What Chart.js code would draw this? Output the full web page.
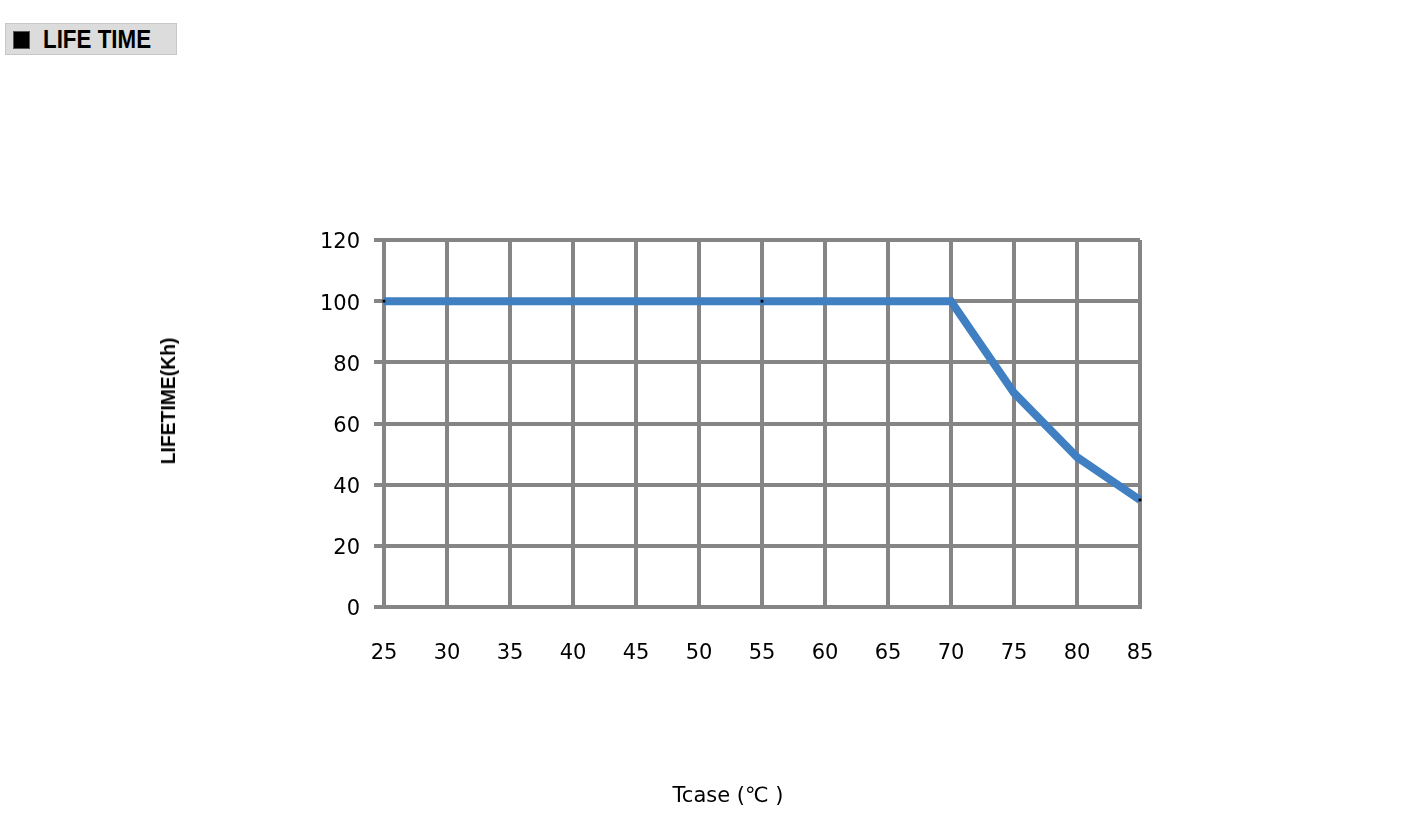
<!DOCTYPE html>
<html>
<head>
<meta charset="utf-8">
<script src="https://cdn.jsdelivr.net/npm/chart.js@4"></script>
<style>
  html, body { margin: 0; padding: 0; background: #fff; }
  #wrap { position: relative; width: 1407px; height: 837px; }
  #myChart { position: absolute; left: 0; top: 0; }
  .head {
    position: absolute; left: 5px; top: 23px; width: 170px; height: 30px;
    background: #dcdcdc; border: 1px solid #c8c8c8;
  }
  .head .box {
    position: absolute; left: 7px; top: 7px; width: 15px; height: 16px;
    background: #000; border: 1px solid #555;
  }
  .head .txt {
    position: absolute; left: 37px; top: 0px;
    font: bold 26px "Liberation Sans", sans-serif;
    color: #000; transform: scaleX(0.86); transform-origin: left center;
    white-space: nowrap;
  }
  .ytitle {
    position: absolute; left: 168px; top: 401px;
    font: bold 21px "Liberation Sans", sans-serif; color: #000;
    white-space: nowrap;
    transform: translate(-50%, -50%) rotate(-90deg) scaleX(0.92);
  }
  .xtitle {
    position: absolute; left: 728px; top: 795px;
    font: 21px "DejaVu Sans", sans-serif; color: #000;
    white-space: nowrap;
    transform: translate(-50%, -50%);
  }
</style>
</head>
<body>
<div id="wrap">
  <div class="head"><div class="box"></div><div class="txt">LIFE TIME</div></div>
  <canvas id="myChart" width="1407" height="837"></canvas>
  <div class="ytitle">LIFETIME(Kh)</div>
  <div class="xtitle">Tcase (℃ )</div>
</div>
<script>
// chart values
const tcase = [25, 55, 70, 75, 80, 85];
const lifetime = [100, 100, 100, 70, 49, 35];
const xTicks = [25, 30, 35, 40, 45, 50, 55, 60, 65, 70, 75, 80, 85];
const yTicks = [0, 20, 40, 60, 80, 100, 120];
const markedPoints = [25, 55, 85];

const ctx = document.getElementById('myChart');
const gridColor = '#858585';

new Chart(ctx, {
  type: 'line',
  data: {
    datasets: [{
      label: 'LIFETIME',
      data: tcase.map((t, i) => ({ x: t, y: lifetime[i] })),
      borderColor: '#4080c2',
      borderWidth: 8,
      tension: 0,
      fill: false,
      clip: false,
      pointStyle: 'rect',
      pointBackgroundColor: '#000',
      pointBorderWidth: 0,
      pointRadius: c => markedPoints.includes(c.raw && c.raw.x) ? 2 : 0
    }]
  },
  options: {
    responsive: false,
    animation: false,
    layout: { padding: { left: 0, top: 240, right: 267, bottom: 0 } },
    plugins: { legend: { display: false }, tooltip: { enabled: false } },
    scales: {
      x: {
        type: 'linear',
        min: 25, max: 85,
        afterBuildTicks: s => { s.ticks = xTicks.map(v => ({ value: v })); },
        afterFit: s => { s.height = 230; },
        grid: { color: gridColor, lineWidth: 4, drawTicks: false },
        border: { color: gridColor, width: 4 },
        ticks: {
          padding: 34, color: '#000',
          font: { family: 'DejaVu Sans', size: 21 },
          maxRotation: 0
        }
      },
      y: {
        min: 0, max: 120,
        afterBuildTicks: s => { s.ticks = yTicks.map(v => ({ value: v })); },
        afterFit: s => { s.width = 384; },
        grid: { color: gridColor, lineWidth: 4, tickLength: 10 },
        border: { color: gridColor, width: 4 },
        ticks: {
          padding: 14, color: '#000', labelOffset: 3,
          font: { family: 'DejaVu Sans', size: 21 }
        }
      }
    }
  }
});
</script>
</body>
</html>
